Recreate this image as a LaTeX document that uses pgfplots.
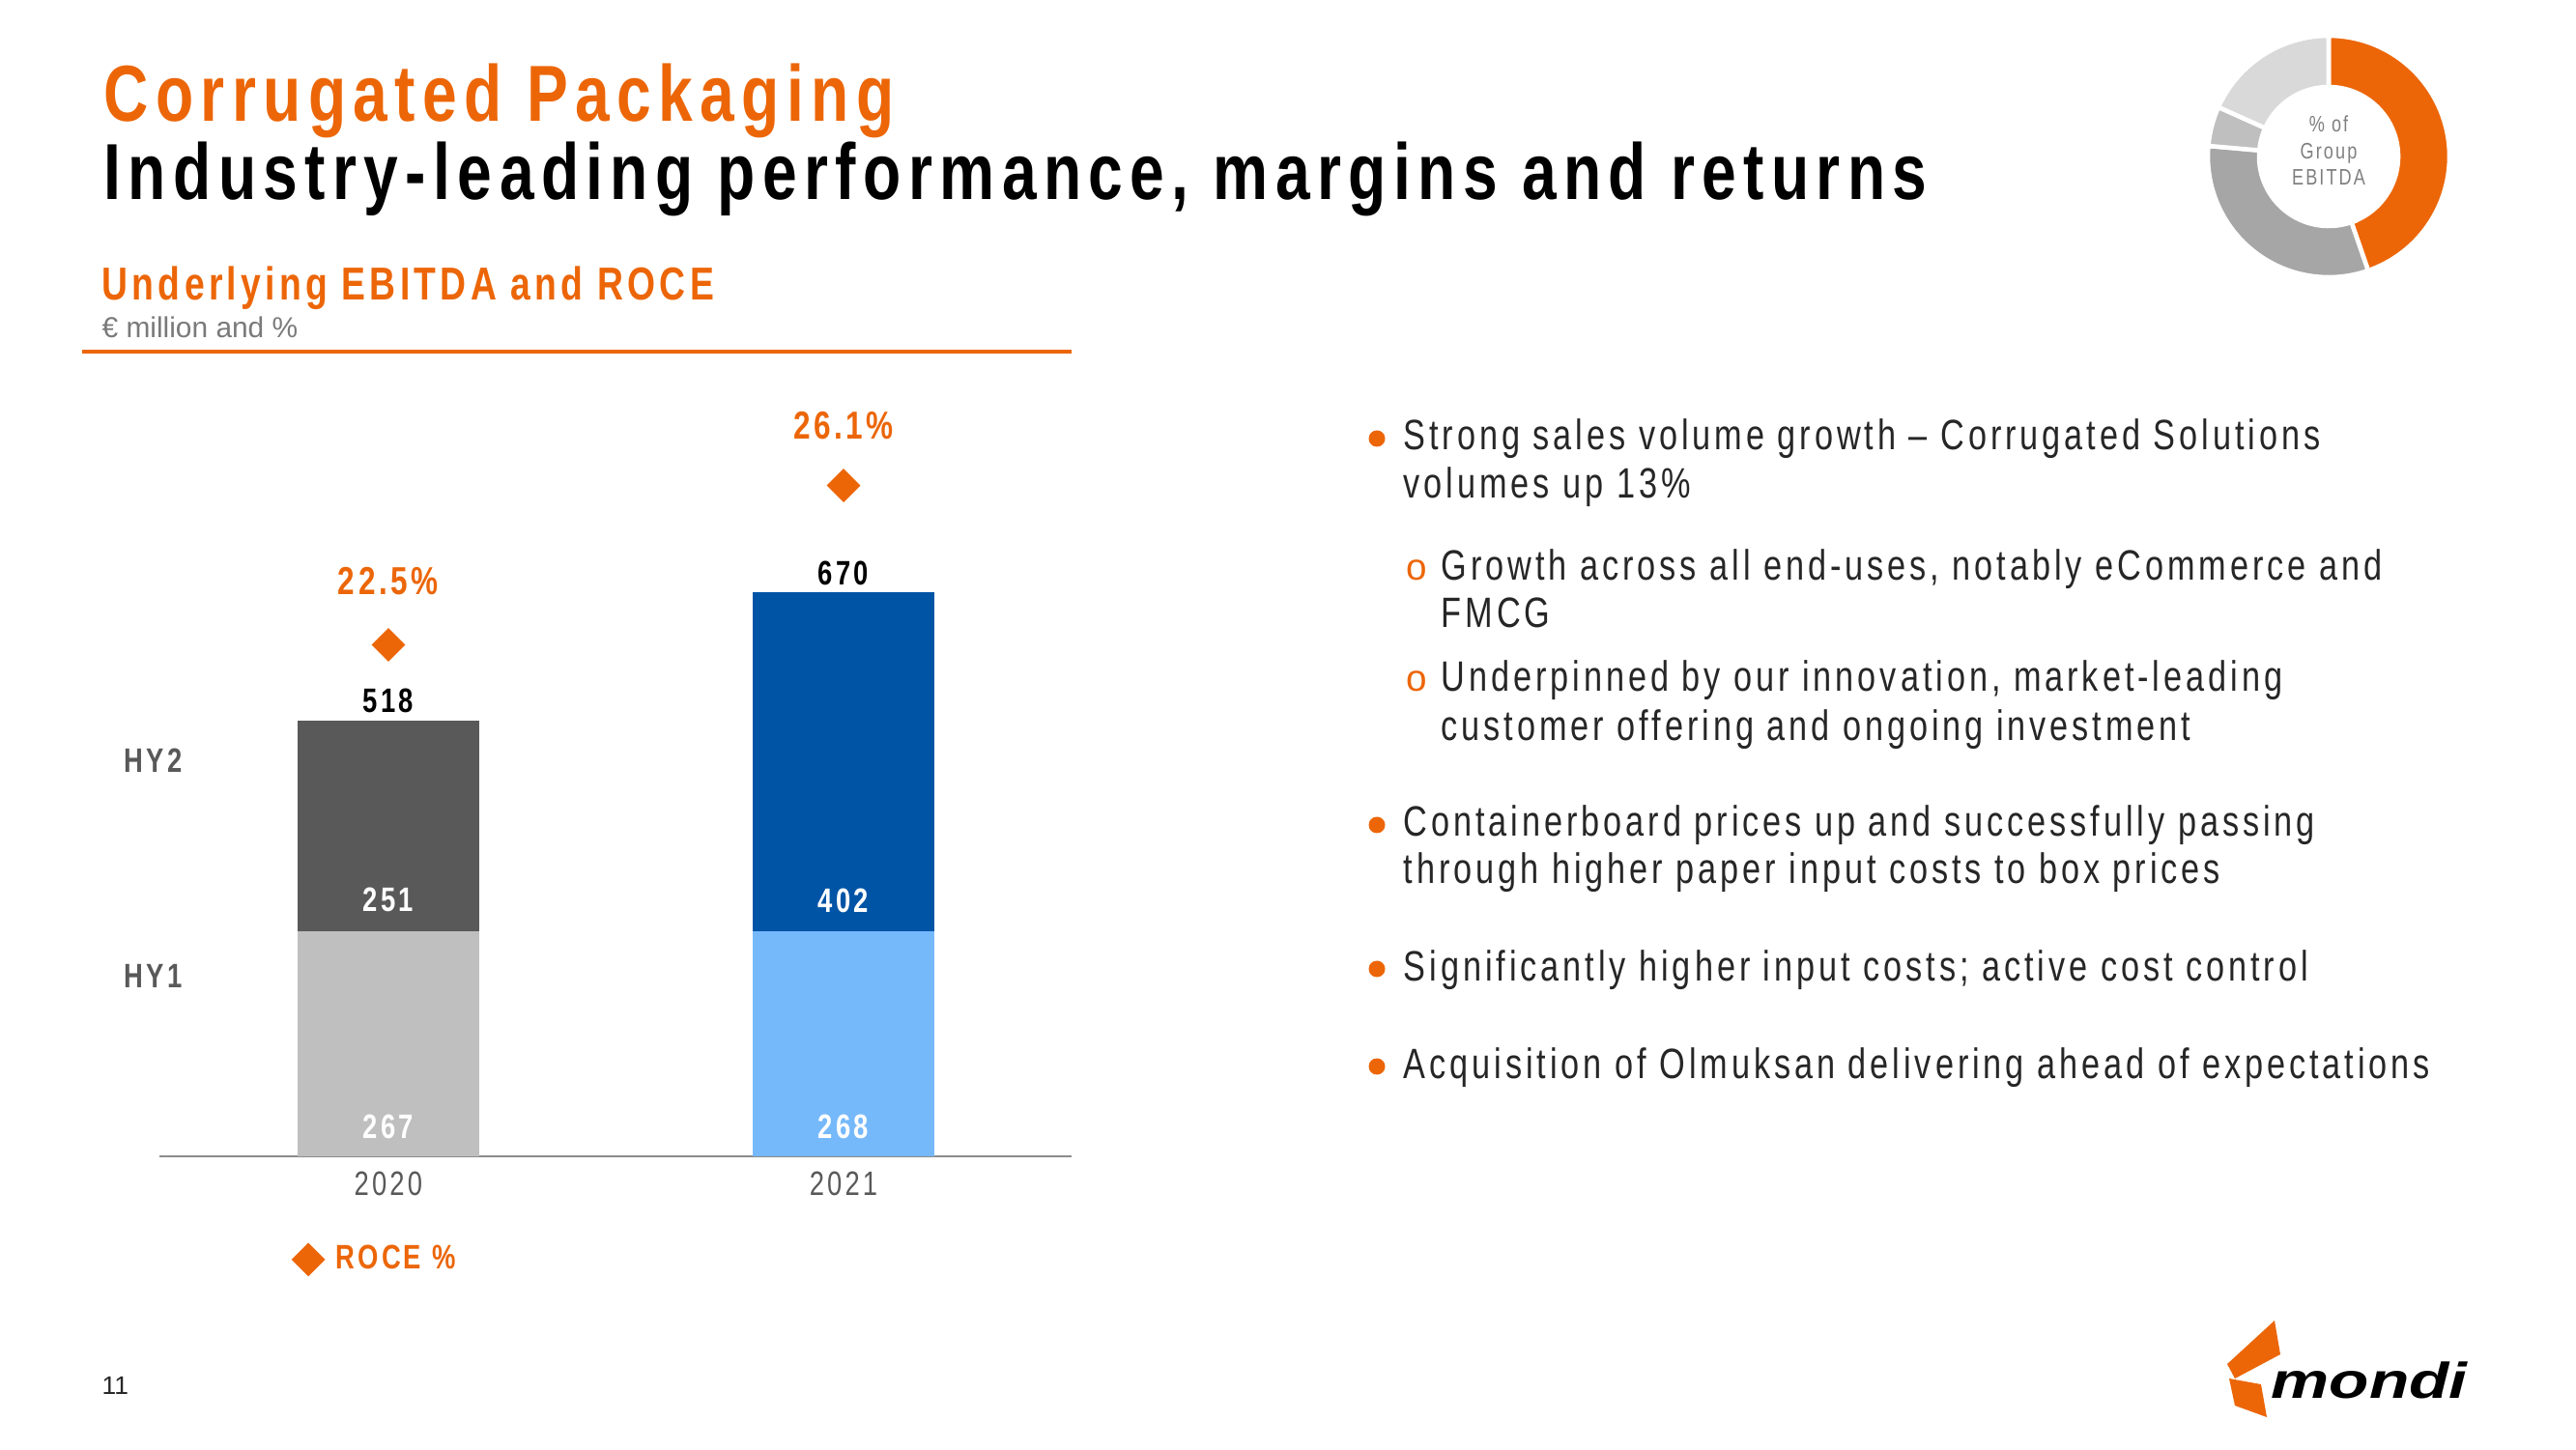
\documentclass[border=0pt]{standalone}
\usepackage{fontspec}
\usepackage{pgfplots}
\pgfplotsset{compat=1.18}
\setmainfont{Liberation Sans}
\newfontfamily\nf{Liberation Sans}[FakeStretch=0.78,LetterSpace=9]
\newfontfamily\logofont{Liberation Sans}[FakeStretch=1.3]
\definecolor{mondiorange}{HTML}{EC6608}
\definecolor{bodytext}{HTML}{262626}
\definecolor{tickgray}{HTML}{595959}
\definecolor{axisgray}{HTML}{8C8C8C}
\definecolor{hyonegray}{HTML}{BFBFBF}
\definecolor{hytwogray}{HTML}{595959}
\definecolor{hyoneblue}{HTML}{76B9FB}
\definecolor{hytwoblue}{HTML}{0054A6}
\definecolor{dgA}{HTML}{A6A6A6}
\definecolor{dgB}{HTML}{BFBFBF}
\definecolor{dgC}{HTML}{D9D9D9}
\newcommand\fs[1]{\fontsize{#1}{#1}\selectfont}
\begin{document}
\begin{tikzpicture}
\path[use as bounding box, fill=white] (0,0) rectangle (26.66,15);
% titles
\node[anchor=base west, inner sep=0, text=mondiorange, font=\nf\bfseries\fs{23.4pt}] at (1.07,13.74) {Corrugated Packaging};
\node[anchor=base west, inner sep=0, text=black, font=\nf\bfseries\fs{23.4pt}] at (1.07,12.93) {Industry-leading performance, margins and returns};
\node[anchor=base west, inner sep=0, text=mondiorange, font=\nf\bfseries\fs{13.6pt}] at (1.05,11.89) {Underlying EBITDA and ROCE};
\node[anchor=base west, inner sep=0, text=tickgray!80, font=\fs{8.5pt}] at (1.05,11.50) {€ million and \%};
\draw[mondiorange, line width=1.1pt] (0.85,11.36) -- (11.09,11.36);
% HY labels
\node[anchor=west, inner sep=0, text=tickgray, font=\nf\bfseries\fs{10pt}] at (1.28,7.13) {HY2};
\node[anchor=west, inner sep=0, text=tickgray, font=\nf\bfseries\fs{10pt}] at (1.28,4.90) {HY1};
% bar chart
\begin{axis}[
  at={(1.65cm,3.03cm)}, anchor=south west,
  scale only axis, width=9.44cm, height=7.97cm,
  xmin=-0.503, xmax=1.501, ymin=0, ymax=915,
  clip=false,
  axis x line*=bottom, axis y line=none,
  ytick=\empty, xtick={0,1}, xticklabels={2020,2021},
  major tick length=0pt,
  x axis line style={draw=axisgray, line width=0.75pt},
  xticklabel style={font=\nf\fs{10pt}, text=tickgray, anchor=north, inner sep=0pt, yshift=-0.15cm},
  /pgf/number format/assume math mode=true,
]
\addplot[ybar, bar width=1.88cm, bar shift=0pt, fill=hytwogray, draw=none] coordinates {(0,518)};
\addplot[ybar, bar width=1.88cm, bar shift=0pt, fill=hytwoblue, draw=none] coordinates {(1,670)};
\addplot[ybar, bar width=1.88cm, bar shift=0pt, fill=hyonegray, draw=none] coordinates {(0,267)};
\addplot[ybar, bar width=1.88cm, bar shift=0pt, fill=hyoneblue, draw=none] coordinates {(1,268)};
\node[font=\nf\bfseries\fs{10pt}, text=white, yshift=0.31cm] at (axis cs:0,0) {267};
\node[font=\nf\bfseries\fs{10pt}, text=white, yshift=0.31cm] at (axis cs:1,0) {268};
\node[font=\nf\bfseries\fs{10pt}, text=white, yshift=0.33cm] at (axis cs:0,267) {251};
\node[font=\nf\bfseries\fs{10pt}, text=white, yshift=0.31cm] at (axis cs:1,268) {402};
\node[font=\nf\bfseries\fs{10pt}, text=black, yshift=0.20cm] at (axis cs:0,518) {518};
\node[font=\nf\bfseries\fs{10pt}, text=black, yshift=0.20cm] at (axis cs:1,670) {670};
\end{axis}
\begin{axis}[
  at={(1.65cm,3.03cm)}, anchor=south west,
  scale only axis, width=9.44cm, height=7.97cm,
  xmin=-0.503, xmax=1.501, ymin=10.94, ymax=28.34,
  clip=false, axis lines=none, xtick=\empty, ytick=\empty,
  legend style={at={(axis description cs:0.134,-0.134)}, anchor=west, draw=none, fill=none,
    font=\nf\bfseries\fs{10pt}, text=mondiorange},
  legend image code/.code={\draw[#1] plot coordinates {(0.16cm,0cm)};},
]
\addplot[only marks, mark=square*, mark size=3.3pt, color=mondiorange, mark options={rotate=45, fill=mondiorange, draw=mondiorange}] coordinates {(0,22.5) (1,26.1)};
\addlegendentry{\hspace{0.05cm}ROCE \%}
\node[font=\nf\bfseries\fs{11.5pt}, text=mondiorange, yshift=0.66cm] at (axis cs:0,22.5) {22.5\%};
\node[font=\nf\bfseries\fs{11.5pt}, text=mondiorange, yshift=0.62cm] at (axis cs:1,26.1) {26.1\%};
\end{axis}
% bullets
\begin{scope}[every node/.style={anchor=base west, inner sep=0, text=bodytext, font=\nf\fs{12.5pt}}]
\node at (14.52,10.34) {Strong sales volume growth – Corrugated Solutions};
\node at (14.52,9.84) {volumes up 13\%};
\node at (14.91,8.99) {Growth across all end-uses, notably eCommerce and};
\node at (14.91,8.50) {FMCG};
\node at (14.91,7.84) {Underpinned by our innovation, market-leading};
\node at (14.91,7.34) {customer offering and ongoing investment};
\node at (14.52,6.34) {Containerboard prices up and successfully passing};
\node at (14.52,5.85) {through higher paper input costs to box prices};
\node at (14.52,4.85) {Significantly higher input costs; active cost control};
\node at (14.52,3.84) {Acquisition of Olmuksan delivering ahead of expectations};
\node[anchor=base, text=mondiorange, font=\fs{11pt}] at (14.66,8.99) {o};
\node[anchor=base, text=mondiorange, font=\fs{11pt}] at (14.66,7.84) {o};
\end{scope}
\foreach \y in {10.46,6.46,4.97,3.96} \fill[mondiorange] (14.25,\y) circle (0.085);
% donut
\begin{scope}[shift={(24.10,13.38)}]
\xdef\acc{90}
\foreach \p/\c in {44.7/mondiorange, 31.7/dgA, 5.3/dgB, 18.3/dgC} {
  \pgfmathsetmacro\b{\acc-3.6*\p}
  \filldraw[fill=\c, draw=white, line width=1.3pt] (\acc:0.72) -- (\acc:1.25) arc[start angle=\acc, end angle=\b, radius=1.25] -- (\b:0.72) arc[start angle=\b, end angle=\acc, radius=0.72] -- cycle;
  \xdef\acc{\b}
}
\node[align=center, text=gray, font=\nf\fontsize{6.6pt}{7.8pt}\selectfont, inner sep=0] at (0,0.06) {\% of\\Group\\EBITDA};
\end{scope}
% page number
\node[anchor=base west, inner sep=0, text=bodytext, font=\fs{7.5pt}] at (1.05,0.57) {11};
% logo
\fill[mondiorange] (23.05,0.88) -- (23.54,1.33) -- (23.60,0.98) -- (23.13,0.73) -- cycle;
\fill[mondiorange] (23.07,0.73) -- (23.40,0.67) -- (23.46,0.33) -- (23.13,0.45) -- cycle;
\node[anchor=base west, inner sep=0, font=\logofont\bfseries\itshape\fs{14.8pt}] at (23.50,0.53) {mondi};
\end{tikzpicture}
\end{document}
